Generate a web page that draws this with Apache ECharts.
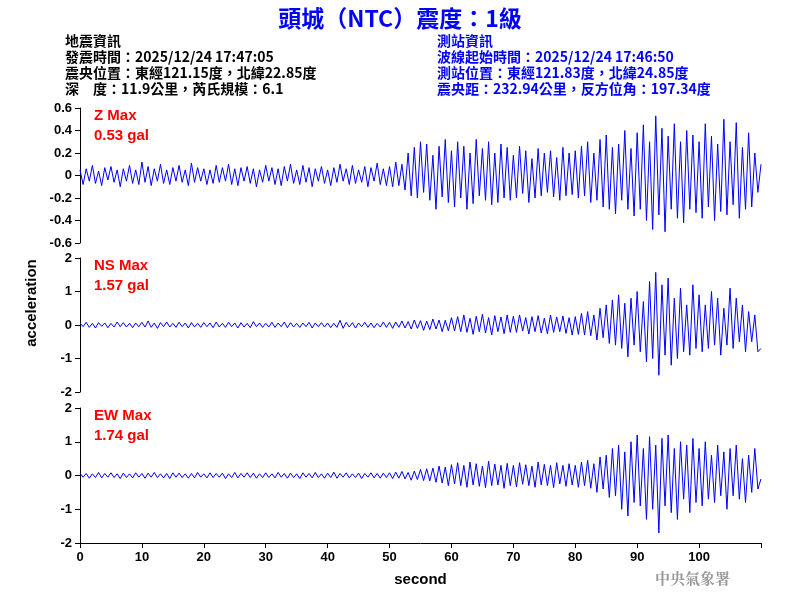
<!DOCTYPE html>
<html>
<head>
<meta charset="utf-8">
<script src="https://cdn.jsdelivr.net/npm/echarts@6/dist/echarts.min.js"></script>
<style>html,body{margin:0;background:#fff}#c{width:800px;height:600px}</style>
</head>
<body>
<div id="c"></div>
<script>
// sample step 0.5 s, 0..110 s
var dt = 0.5;
var zVals = [
0.05,-0.08,0.06,-0.05,0.09,-0.07,0.04,-0.09,0.07,-0.04,0.08,-0.06,0.05,-0.1,0.06,-0.05,0.09,-0.07,0.05,-0.08,
0.12,-0.06,0.08,-0.09,0.06,-0.05,0.1,-0.07,0.05,-0.08,0.07,-0.05,0.09,-0.06,0.05,-0.09,0.11,-0.06,0.07,-0.05,
0.06,-0.08,0.05,-0.07,0.09,-0.06,0.07,-0.05,0.1,-0.08,0.06,-0.09,0.07,-0.05,0.08,-0.07,0.06,-0.1,0.05,-0.06,
0.09,-0.05,0.07,-0.08,0.06,-0.09,0.08,-0.05,0.1,-0.07,0.05,-0.08,0.09,-0.06,0.07,-0.1,0.06,-0.05,0.08,-0.07,
0.05,-0.09,0.07,-0.06,0.1,-0.05,0.06,-0.08,0.09,-0.07,0.05,-0.06,0.08,-0.1,0.07,-0.05,0.11,-0.08,0.06,-0.09,
0.08,-0.1,0.12,-0.09,0.1,-0.13,0.2,-0.18,0.25,-0.2,0.3,-0.15,0.28,-0.22,0.18,-0.3,0.26,-0.19,0.32,-0.24,
0.22,-0.28,0.3,-0.2,0.26,-0.3,0.2,-0.25,0.32,-0.18,0.24,-0.22,0.3,-0.26,0.2,-0.24,0.28,-0.2,0.25,-0.22,
0.18,-0.2,0.26,-0.16,0.22,-0.24,0.15,-0.2,0.24,-0.18,0.2,-0.15,0.22,-0.19,0.16,-0.22,0.25,-0.18,0.2,-0.17,
0.22,-0.2,0.26,-0.18,0.3,-0.24,0.2,-0.22,0.32,-0.28,0.36,-0.3,0.25,-0.34,0.28,-0.22,0.4,-0.3,0.24,-0.36,
0.38,-0.3,0.45,-0.4,0.3,-0.48,0.53,-0.35,0.42,-0.5,0.35,-0.3,0.46,-0.38,0.3,-0.42,0.4,-0.3,0.36,-0.33,
0.3,-0.38,0.46,-0.28,0.35,-0.4,0.28,-0.32,0.5,-0.35,0.3,-0.26,0.47,-0.38,0.25,-0.3,0.38,-0.28,0.2,-0.15,
0.1];
var nsVals = [
0.06,-0.05,0.08,-0.07,0.05,-0.09,0.07,-0.04,0.06,-0.08,0.05,-0.06,0.09,-0.05,0.07,-0.06,0.05,-0.08,0.06,-0.05,
0.08,-0.06,0.12,-0.07,0.06,-0.1,0.07,-0.05,0.09,-0.06,0.05,-0.07,0.08,-0.05,0.06,-0.09,0.07,-0.06,0.05,-0.07,
0.07,-0.05,0.06,-0.08,0.09,-0.06,0.05,-0.07,0.08,-0.05,0.06,-0.09,0.07,-0.06,0.05,-0.08,0.1,-0.05,0.06,-0.07,
0.05,-0.06,0.08,-0.07,0.06,-0.05,0.09,-0.08,0.07,-0.06,0.05,-0.07,0.06,-0.05,0.08,-0.09,0.06,-0.05,0.07,-0.06,
0.06,-0.08,0.05,-0.07,0.14,-0.1,0.08,-0.06,0.07,-0.09,0.06,-0.05,0.08,-0.07,0.06,-0.08,0.05,-0.06,0.09,-0.07,
0.08,-0.1,0.09,-0.07,0.12,-0.09,0.1,-0.12,0.15,-0.1,0.13,-0.16,0.12,-0.14,0.18,-0.12,0.15,-0.2,0.14,-0.17,
0.22,-0.18,0.25,-0.2,0.3,-0.22,0.2,-0.28,0.26,-0.2,0.32,-0.24,0.22,-0.3,0.28,-0.2,0.24,-0.26,0.3,-0.22,
0.26,-0.22,0.3,-0.18,0.22,-0.27,0.25,-0.2,0.28,-0.24,0.2,-0.26,0.3,-0.22,0.24,-0.2,0.27,-0.25,0.22,-0.3,
0.25,-0.28,0.35,-0.3,0.4,-0.32,0.3,-0.45,0.5,-0.38,0.6,-0.55,0.75,-0.6,0.9,-0.7,0.65,-0.95,0.8,-0.6,
1.0,-0.8,0.7,-1.1,1.3,-1.0,1.57,-1.5,1.2,-0.9,1.4,-1.2,0.8,-1.0,1.1,-0.8,0.6,-0.9,1.2,-0.7,
0.9,-0.8,0.6,-0.7,1.0,-0.6,0.8,-0.9,0.5,-0.6,1.1,-0.7,0.8,-0.5,0.6,-0.8,0.4,-0.5,0.3,-0.8,
-0.7];
var ewVals = [
0.07,-0.05,0.06,-0.08,0.05,-0.06,0.09,-0.07,0.06,-0.05,0.08,-0.06,0.05,-0.09,0.07,-0.06,0.05,-0.07,0.08,-0.05,
0.06,-0.08,0.07,-0.05,0.09,-0.06,0.05,-0.07,0.06,-0.09,0.08,-0.05,0.07,-0.06,0.05,-0.08,0.06,-0.07,0.09,-0.05,
0.05,-0.07,0.08,-0.06,0.06,-0.05,0.07,-0.09,0.05,-0.06,0.09,-0.07,0.06,-0.05,0.08,-0.06,0.07,-0.08,0.05,-0.06,
0.08,-0.06,0.05,-0.07,0.09,-0.05,0.06,-0.08,0.07,-0.06,0.05,-0.09,0.08,-0.05,0.06,-0.07,0.09,-0.06,0.05,-0.08,
0.07,-0.06,0.1,-0.08,0.06,-0.05,0.08,-0.07,0.05,-0.06,0.07,-0.09,0.06,-0.05,0.08,-0.07,0.06,-0.08,0.07,-0.06,
0.08,-0.09,0.1,-0.08,0.12,-0.1,0.09,-0.14,0.13,-0.12,0.18,-0.15,0.2,-0.16,0.22,-0.2,0.28,-0.22,0.25,-0.3,
0.32,-0.25,0.38,-0.3,0.3,-0.35,0.4,-0.28,0.35,-0.32,0.28,-0.36,0.42,-0.3,0.34,-0.28,0.3,-0.38,0.36,-0.3,
0.3,-0.34,0.38,-0.26,0.32,-0.3,0.28,-0.35,0.4,-0.28,0.33,-0.3,0.3,-0.36,0.38,-0.25,0.3,-0.32,0.35,-0.28,
0.3,-0.35,0.4,-0.3,0.45,-0.38,0.35,-0.5,0.55,-0.4,0.6,-0.65,0.8,-0.6,0.9,-1.0,0.7,-1.2,1.0,-0.8,
1.2,-0.9,0.8,-1.3,1.15,-1.0,0.9,-1.7,1.1,-0.9,1.2,-1.1,0.8,-1.3,1.0,-0.7,0.9,-1.1,1.1,-0.8,
0.8,-0.9,1.0,-0.7,0.6,-0.8,0.9,-0.6,0.7,-1.0,0.8,-0.6,0.9,-0.7,0.5,-0.8,0.6,-0.5,0.8,-0.4,
-0.1];
var xTicks = [0, 10, 20, 30, 40, 50, 60, 70, 80, 90, 100];

function pairs(arr) {
  return arr.map(function (v, i) { return [i * dt, v]; });
}

var chart = echarts.init(document.getElementById('c'));
var font = 'Arial, "Liberation Sans", sans-serif';
var cjk = '"Noto Sans CJK TC", sans-serif';
var tops = [108, 258, 408];
var hs = [135, 134, 135];
var grids = [], xAxes = [], yAxes = [], series = [];
var data = [zVals, nsVals, ewVals];
var ranges = [[-0.6, 0.6, 0.2], [-2, 2, 1], [-2, 2, 1]];
for (var k = 0; k < 3; k++) {
  grids.push({ left: 80, right: 39, top: tops[k], height: hs[k] });
  xAxes.push({
    gridIndex: k, type: 'value', min: 0, max: 110, interval: 10,
    show: k === 2,
    axisLine: { onZero: false, lineStyle: { color: '#000' } },
    axisTick: { lineStyle: { color: '#000' }, length: 5 },
    splitLine: { show: false },
    axisLabel: { color: '#000', fontWeight: 'bold', fontFamily: font, fontSize: 13,
      formatter: function (v) { return xTicks.indexOf(v) >= 0 ? v : ''; } },
    name: k === 2 ? 'second' : '', nameLocation: 'middle', nameGap: 29,
    nameTextStyle: { color: '#000', fontWeight: 'bold', fontSize: 15, fontFamily: font }
  });
  yAxes.push({
    gridIndex: k, type: 'value', min: ranges[k][0], max: ranges[k][1], interval: ranges[k][2],
    axisLine: { show: true, onZero: false, lineStyle: { color: '#000' } },
    axisTick: { show: true, lineStyle: { color: '#000' }, length: 5 },
    splitLine: { show: false },
    axisLabel: { color: '#000', fontWeight: 'bold', fontFamily: font, fontSize: 13,
      formatter: function (v) { return Math.round(v * 10) / 10; } }
  });
  series.push({
    type: 'line', xAxisIndex: k, yAxisIndex: k, data: pairs(data[k]),
    showSymbol: false, lineStyle: { color: '#0000ff', width: 1 }, animation: false
  });
}

function txt(x, y, s, color, size, bold, ff) {
  return { type: 'text', left: x, top: y, style: { text: s, fill: color, fontSize: size,
    fontWeight: bold ? 'bold' : 'normal', fontFamily: ff || cjk } };
}

var info = [
  txt(65, 34, '地震資訊', '#000', 14, true),
  txt(65, 50, '發震時間：2025/12/24 17:47:05', '#000', 14, true),
  txt(65, 66, '震央位置：東經121.15度，北緯22.85度', '#000', 14, true),
  txt(65, 82, '深　度：11.9公里，芮氏規模：6.1', '#000', 14, true),
  txt(437, 34, '測站資訊', '#0000ff', 14, true),
  txt(437, 50, '波線起始時間：2025/12/24 17:46:50', '#0000ff', 14, true),
  txt(437, 66, '測站位置：東經121.83度，北緯24.85度', '#0000ff', 14, true),
  txt(437, 82, '震央距：232.94公里，反方位角：197.34度', '#0000ff', 14, true),
  txt(94, 108, 'Z Max', '#ff0000', 15, true, font),
  txt(94, 128, '0.53 gal', '#ff0000', 15, true, font),
  txt(94, 258, 'NS Max', '#ff0000', 15, true, font),
  txt(94, 278, '1.57 gal', '#ff0000', 15, true, font),
  txt(94, 408, 'EW Max', '#ff0000', 15, true, font),
  txt(94, 428, '1.74 gal', '#ff0000', 15, true, font),
  txt(655, 571, '中央氣象署', '#999', 15, true, '"Noto Serif CJK TC", ' + cjk),
  { type: 'text', x: 32, y: 303, rotation: Math.PI / 2,
    style: { text: 'acceleration', fill: '#000', fontSize: 15, fontWeight: 'bold', fontFamily: font,
      align: 'center', verticalAlign: 'middle' } }
];

chart.setOption({
  backgroundColor: '#fff',
  animation: false,
  title: { text: '頭城（NTC）震度：1級', left: 'center', top: 2,
    textStyle: { color: '#0000ff', fontSize: 23, fontWeight: 'bold', fontFamily: cjk } },
  grid: grids, xAxis: xAxes, yAxis: yAxes, series: series,
  graphic: info
});
</script>
</body>
</html>
